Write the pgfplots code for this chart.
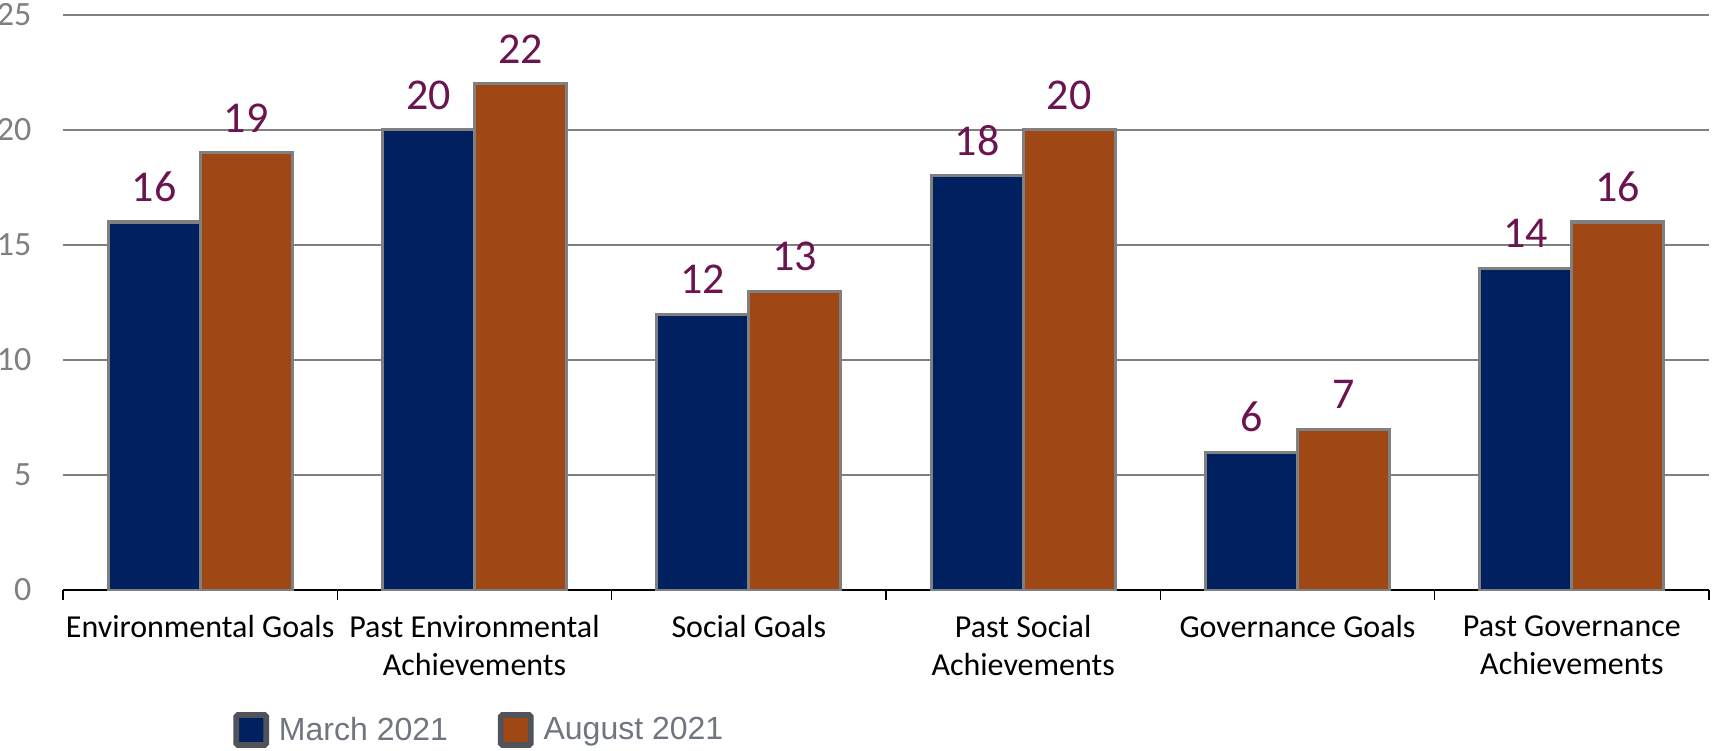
\documentclass[border=0pt]{standalone}
\usepackage{pgfplots}
\pgfplotsset{compat=1.18}
\usepackage{fontspec}
\setmainfont{Carlito}
\newfontfamily\arialf{Liberation Sans}
\definecolor{barblue}{HTML}{002060}
\definecolor{barorange}{HTML}{A04716}
\definecolor{bordergray}{HTML}{808080}
\definecolor{labelcol}{HTML}{6B1450}
\definecolor{tickgray}{HTML}{7F7F7F}
\definecolor{leggray}{HTML}{50545A}
\definecolor{legtext}{HTML}{6F7680}
\begin{document}
\begin{tikzpicture}
\begin{axis}[
  scale only axis,
  width=823bp, height=287.5bp,
  xmin=-0.5, xmax=5.5, ymin=0, ymax=25,
  ybar=0pt, bar width=0.335,
  axis x line*=bottom, axis y line*=left,
  x axis line style={-, black, line width=1bp},
  y axis line style={draw=none},
  xtick={0,...,5},
  xticklabels={Environmental Goals, Past Environmental\\Achievements, Social Goals, Past Social\\Achievements, Governance Goals, Past Governance\\Achievements},
  xticklabel style={align=center, font=\fontsize{16bp}{19bp}\selectfont, text=black, yshift=-5bp},
  major x tick style={draw=none},
  minor xtick={-0.5,0.5,...,5.5},
  minor x tick style={black, line width=0.8bp},
  tick align=outside,
  minor tick length=5bp,
  ytick={0,5,...,25},
  major y tick style={draw=none},
  yticklabel style={font=\fontsize{17bp}{20bp}\selectfont, text=tickgray, xshift=-8bp},
  /pgf/number format/assume math mode=true,
  ymajorgrids,
  grid style={color=bordergray, line width=1bp},
  nodes near coords,
  every node near coord/.append style={font=\fontsize{22bp}{26bp}\selectfont, text=labelcol, yshift=6bp},
  legend columns=2,
  legend style={at={(axis description cs:0,0)}, anchor=west, xshift=85bp, yshift=-70bp, draw=none, inner sep=0pt,
    font=\arialf\fontsize{16bp}{19bp}\selectfont, text=legtext,
    /tikz/every even column/.append style={column sep=20bp},
    nodes={inner xsep=5bp}},
  legend image code/.code={\draw[#1, draw=leggray, line width=2.8bp, rounded corners=0.8bp] (0bp,-7.5bp) rectangle (15bp,7.5bp);},
]
\addplot[fill=barblue, draw=bordergray, line width=1.5bp] coordinates {(0,16) (1,20) (2,12) (3,18) (4,6) (5,14)};
\addplot[fill=barorange, draw=bordergray, line width=1.5bp] coordinates {(0,19) (1,22) (2,13) (3,20) (4,7) (5,16)};
\legend{March 2021, August 2021}
\coordinate (BL) at ([xshift=-31.5bp, yshift=-80bp]axis description cs:0,0);
\coordinate (TR) at ([xshift=1.5bp, yshift=7.5bp]axis description cs:1,1);
\end{axis}
\pgfresetboundingbox
\path[use as bounding box] (BL) rectangle (TR);
\end{tikzpicture}
\end{document}
